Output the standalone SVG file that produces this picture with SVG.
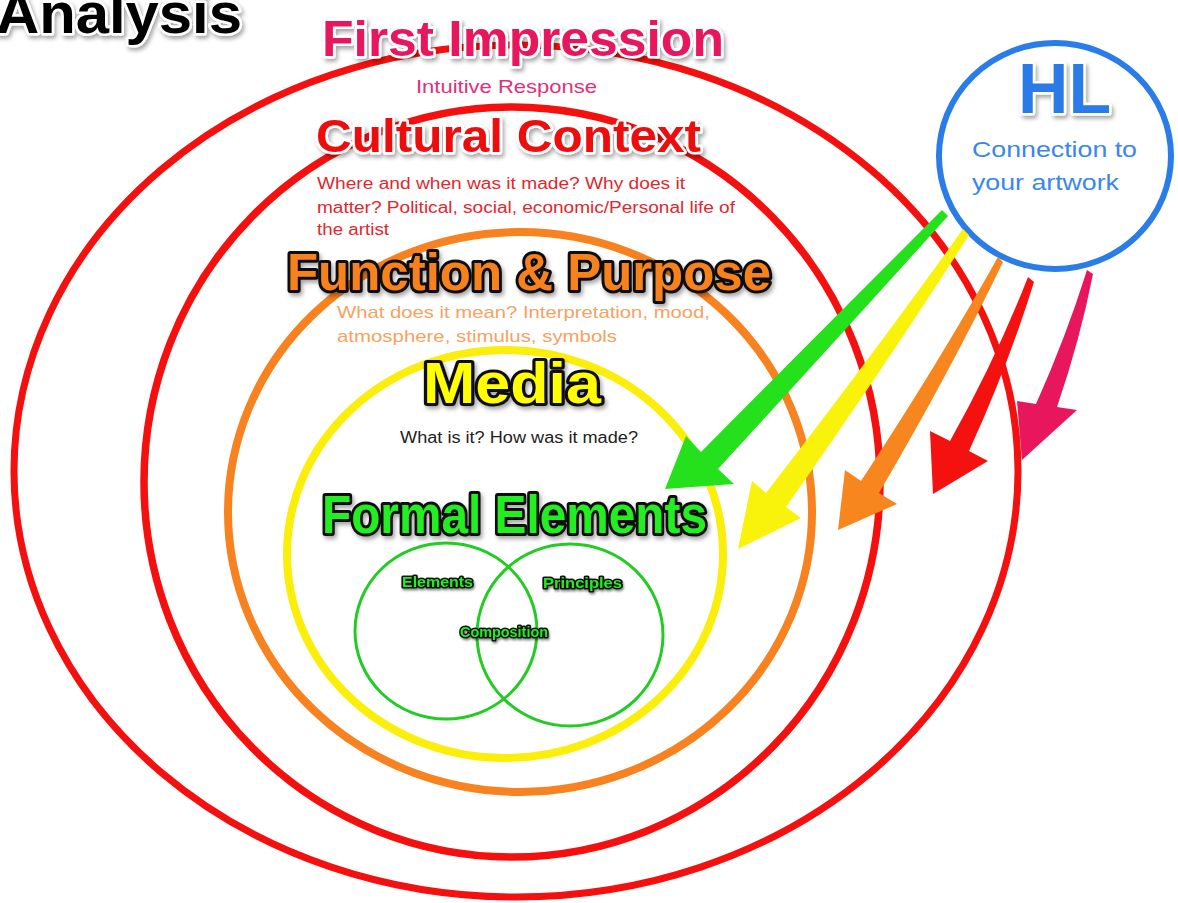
<svg xmlns="http://www.w3.org/2000/svg" width="1178" height="903" viewBox="0 0 1178 903">
<defs>
<filter id="sh" x="-10%" y="-30%" width="130%" height="170%"><feDropShadow dx="2" dy="3" stdDeviation="2" flood-color="#000" flood-opacity="0.35"/></filter>
<filter id="shs" x="-10%" y="-30%" width="130%" height="170%"><feDropShadow dx="1" dy="2" stdDeviation="1.2" flood-color="#000" flood-opacity="0.45"/></filter>
<style>
.ring{fill:none}
.t{font-family:"Liberation Sans",Arial,sans-serif}
.big{font-weight:bold;paint-order:stroke fill;stroke-linejoin:round}
.wo{stroke:#fff;stroke-width:5}
.bo{stroke:#111;stroke-width:6}
.sbo{stroke:#111;stroke-width:3}
.sub{font-weight:normal}
</style>
</defs>
<rect width="1178" height="903" fill="#fff"/>

<g id="analysis-title">
<text class="t big wo" x="-4" y="33" font-size="58" textLength="246" lengthAdjust="spacingAndGlyphs" fill="#000" filter="url(#sh)">Analysis</text>
</g>

<g id="first-impression">
<ellipse class="ring" cx="516" cy="471" rx="502" ry="426" stroke="#f4100e" stroke-width="7"/>
<text class="t big wo" x="322" y="56" font-size="50" textLength="402" lengthAdjust="spacingAndGlyphs" fill="#e8175d" filter="url(#sh)">First Impression</text>
<text class="t sub" x="416" y="93" font-size="19" textLength="181" lengthAdjust="spacingAndGlyphs" fill="#e0307a">Intuitive Response</text>
</g>

<g id="cultural-context">
<ellipse class="ring" cx="512" cy="482" rx="368" ry="375" stroke="#f4100e" stroke-width="7.5"/>
<text class="t big wo" x="316" y="152" font-size="47" textLength="385" lengthAdjust="spacingAndGlyphs" fill="#ee1111" filter="url(#sh)">Cultural Context</text>
<g class="t sub" font-size="16" fill="#e3262e">
<text x="317" y="189" textLength="368" lengthAdjust="spacingAndGlyphs">Where and when was it made? Why does it</text>
<text x="317" y="213" textLength="418" lengthAdjust="spacingAndGlyphs">matter? Political, social, economic/Personal life of</text>
<text x="317" y="235" textLength="72" lengthAdjust="spacingAndGlyphs">the artist</text>
</g>
</g>

<g id="function-purpose">
<ellipse class="ring" cx="520" cy="512" rx="292" ry="280" stroke="#f7821f" stroke-width="8"/>
<text class="t big bo" x="287" y="290" font-size="52" textLength="484" lengthAdjust="spacingAndGlyphs" fill="#f7821f" filter="url(#sh)">Function &amp; Purpose</text>
<g class="t sub" font-size="17" fill="#f5a262">
<text x="337" y="318" textLength="373" lengthAdjust="spacingAndGlyphs">What does it mean? Interpretation, mood,</text>
<text x="337" y="342" textLength="280" lengthAdjust="spacingAndGlyphs">atmosphere, stimulus, symbols</text>
</g>
</g>

<g id="media">
<ellipse class="ring" cx="505" cy="554" rx="218" ry="204" stroke="#fbee0a" stroke-width="8"/>
<text class="t big bo" x="423" y="403" font-size="57" textLength="178" lengthAdjust="spacingAndGlyphs" fill="#ffff00" filter="url(#sh)">Media</text>
<text class="t sub" x="400" y="443" font-size="16" textLength="238" lengthAdjust="spacingAndGlyphs" fill="#222">What is it? How was it made?</text>
</g>

<g id="formal-elements">
<text class="t big bo" x="322" y="533" font-size="53" textLength="385" lengthAdjust="spacingAndGlyphs" fill="#22ee22" filter="url(#sh)">Formal Elements</text>
</g>

<g id="elements">
<ellipse class="ring" cx="446" cy="631" rx="91" ry="88" stroke="#22cc22" stroke-width="3"/>
<text class="t big sbo" x="402" y="587" font-size="14" textLength="71" lengthAdjust="spacingAndGlyphs" fill="#22ee22" filter="url(#shs)">Elements</text>
</g>

<g id="principles">
<ellipse class="ring" cx="570" cy="635" rx="93" ry="91" stroke="#22cc22" stroke-width="3"/>
<text class="t big sbo" x="543" y="588" font-size="14" textLength="79" lengthAdjust="spacingAndGlyphs" fill="#22ee22" filter="url(#shs)">Principles</text>
</g>

<g id="composition">
<text class="t big sbo" x="460" y="637" font-size="14" textLength="88" lengthAdjust="spacingAndGlyphs" fill="#22ee22" filter="url(#shs)">Composition</text>
</g>

<g id="hl">
<ellipse class="ring" cx="1055" cy="156" rx="116" ry="113" stroke="#2a7de8" stroke-width="6"/>
<text class="t big wo" x="1018" y="113" font-size="70" textLength="93" lengthAdjust="spacingAndGlyphs" fill="#2a7ae8" filter="url(#sh)">HL</text>
<g class="t sub" font-size="22" fill="#3a86ec">
<text x="972" y="157" textLength="165" lengthAdjust="spacingAndGlyphs">Connection to</text>
<text x="972" y="190" textLength="147" lengthAdjust="spacingAndGlyphs">your artwork</text>
</g>
</g>

<g id="connectors">
<path d="M942,210 L948,216 Q850,325 718,469 L734,484 L665,489 L686,436 L701,452 Q838,314 942,210 Z" fill="#25e11b"/>
<path d="M963,229 L969,235 Q888,362 786,507 L801,518 L738,549 L752,481 L766,493 Q875,352 963,229 Z" fill="#f9f20a"/>
<path d="M998,257 L1003,262 Q950,372 879,493 L897,504 L838,530 L845,470 L861,481 Q938,364 998,257 Z" fill="#f7861f"/>
<path d="M1028,277 L1034,282 Q1008,366 969,451 L988,461 L933,494 L930,431 L950,441 Q996,359 1028,277 Z" fill="#f5110f"/>
<path d="M1087,270 L1093,274 Q1080,340 1057,407 L1077,410 L1022,460 L1017,401 L1036,404 Q1066,337 1087,270 Z" fill="#e8175d"/>
</g>
</svg>
